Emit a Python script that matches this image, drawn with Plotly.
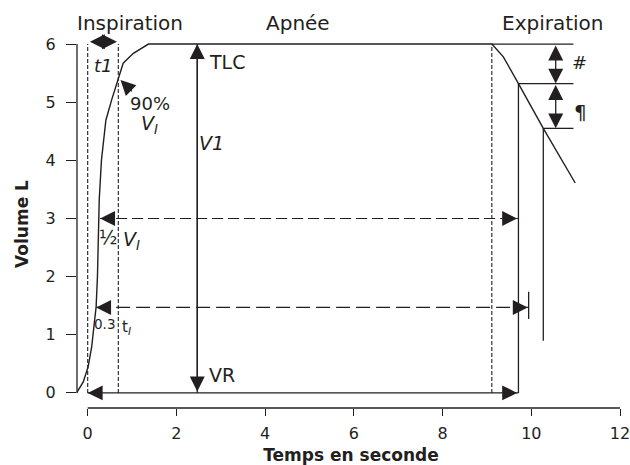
import plotly.graph_objects as go

# Inspiration curve (time in s, volume in L)
t_insp = [-0.25, -0.10, 0.01, 0.09, 0.14, 0.19, 0.22, 0.24, 0.26, 0.31, 0.41, 0.54, 0.69, 0.80, 1.03, 1.37]
v_insp = [0.0, 0.19, 0.45, 0.79, 1.14, 1.48, 2.00, 2.57, 3.32, 4.00, 4.69, 5.04, 5.41, 5.67, 5.84, 6.00]

# Expiration curve after the breath-hold
t_exp = [9.11, 9.37, 9.71, 10.27, 10.99]
v_exp = [6.00, 5.78, 5.32, 4.55, 3.61]

# Key volumes and times
TLC, VR = 6.0, 0.0
V_HALF, V_03 = 3.0, 1.47
T_I = 0.69            # end of inspiration (90 % V_I)
T_APNEE_END = 9.11
T_EXP1, V_EXP1 = 9.71, 5.32
T_EXP2, V_EXP2 = 10.27, 4.55
T_MARK = 9.94
T_HALF_START, T_03_START = 0.28, 0.19
T_VERT = 2.47
T_REF_END = 10.95
T_DOUBLE = 10.55

# Phase labels above the plot
phases = ["Inspiration", "Apnée", "Expiration"]
phase_x = [0.95, 4.74, 10.48]

x_ticks = [0, 2, 4, 6, 8, 10, 12]
y_ticks = [0, 1, 2, 3, 4, 5, 6]

INK = "#231f20"
FONT = "DejaVu Sans"

fig = go.Figure()


def seg(xs, ys, dash=None, width=1.3):
    fig.add_trace(go.Scatter(x=xs, y=ys, mode="lines", hoverinfo="skip",
                             line=dict(color=INK, width=width, dash=dash)))


# curve: inspiration, plateau at TLC, expiration
seg(t_insp + t_exp, v_insp + v_exp, width=1.4)

# reference lines on the right
seg([T_APNEE_END, T_REF_END], [TLC, TLC])
seg([T_EXP1, T_REF_END], [V_EXP1, V_EXP1])
seg([T_EXP2, T_REF_END], [V_EXP2, V_EXP2])
seg([T_EXP1, T_EXP1], [VR, V_EXP1])
seg([T_EXP2, T_EXP2], [0.895, V_EXP2])
seg([T_MARK, T_MARK], [1.27, 1.74])

# dashed verticals
for tx in (0.0, T_I, T_APNEE_END):
    seg([tx, tx], [VR, TLC], dash="4px,2px", width=1.1)

# dashed horizontals
seg([T_HALF_START, T_EXP1], [V_HALF, V_HALF], dash="11px,5px", width=1.2)
seg([T_03_START, T_MARK], [V_03, V_03], dash="14px,6px", width=1.2)

# solid baseline and TLC-VR vertical
seg([0.0, T_EXP1], [VR, VR])
seg([T_VERT, T_VERT], [VR, TLC])

annotations = []
HEAD = 2.3


def head(x, y, ax, ay):
    annotations.append(dict(x=x, y=y, ax=ax, ay=ay, xref="x", yref="y",
                            axref="x", ayref="y", text="", showarrow=True,
                            arrowhead=2, arrowsize=HEAD, arrowwidth=1.3,
                            arrowcolor=INK))


def both(x0, y0, x1, y1):
    annotations.append(dict(x=x1, y=y1, ax=x0, ay=y0, xref="x", yref="y",
                            axref="x", ayref="y", text="", showarrow=True,
                            arrowside="end+start", arrowhead=2, startarrowhead=2,
                            arrowsize=HEAD, startarrowsize=HEAD, arrowwidth=1.3,
                            arrowcolor=INK))


# t1 double arrow
head(0.05, 6.04, 0.35, 6.04)
head(0.66, 6.04, 0.35, 6.04)
# 90 % pointer
head(0.74, 5.38, 1.03, 5.16)
# TLC <-> VR
both(T_VERT, VR, T_VERT, TLC)
# heads on dashed / solid horizontals
head(T_HALF_START, V_HALF, T_HALF_START + 0.35, V_HALF)
head(T_EXP1 - 0.03, V_HALF, T_EXP1 - 0.38, V_HALF)
head(T_03_START, V_03, T_03_START + 0.35, V_03)
head(T_MARK - 0.02, V_03, T_MARK - 0.37, V_03)
head(0.0, VR, 0.35, VR)
head(T_EXP1 - 0.03, VR, T_EXP1 - 0.38, VR)
# # and ¶ double arrows
both(T_DOUBLE, TLC, T_DOUBLE, V_EXP1)
both(T_DOUBLE, V_EXP1, T_DOUBLE, V_EXP2)


def label(x, y, text, size=19, anchor="center"):
    annotations.append(dict(x=x, y=y, xref="x", yref="y", text=text,
                            showarrow=False, xanchor=anchor, yanchor="middle",
                            font=dict(family=FONT, size=size, color=INK)))


for name, px in zip(phases, phase_x):
    annotations.append(dict(x=px, y=1.046, xref="x", yref="paper", text=name,
                            showarrow=False, xanchor="center", yanchor="middle",
                            font=dict(family=FONT, size=20, color=INK)))

label(0.35, 5.63, "<i>t1</i>", 18)
label(1.40, 4.97, "90%", 18)
label(1.40, 4.62, "<i>V</i><sub><i>I</i></sub>", 19)
label(2.70, 5.69, "TLC", 19, "left")
label(2.80, 4.30, "<i>V1</i>", 19)
label(2.68, 0.30, "VR", 19, "left")
label(0.46, 2.68, "½", 19)
label(0.99, 2.62, "<i>V</i><sub><i>I</i></sub>", 19)
label(0.39, 1.18, "0.3", 13.5)
label(0.87, 1.13, "t<sub><i>I</i></sub>", 15)
label(11.08, 5.69, "#", 18)
label(11.10, 4.84, "¶", 20)

# detached axis spines
shapes = [
    dict(type="line", xref="paper", yref="y", x0=0, x1=0, y0=0, y1=6,
         line=dict(color=INK, width=1.3)),
    dict(type="line", xref="x", yref="paper", x0=0, x1=12, y0=0, y1=0,
         line=dict(color=INK, width=1.3)),
]

fig.update_layout(
    width=630, height=465,
    margin=dict(l=77, r=5, t=40, b=57),
    paper_bgcolor="white", plot_bgcolor="white",
    showlegend=False,
    annotations=annotations,
    shapes=shapes,
    font=dict(family=FONT, color=INK),
    xaxis=dict(range=[-0.241, 12.112], tickvals=x_ticks, ticks="outside",
               ticklen=7, tickwidth=1.3, tickcolor=INK, showline=False,
               showgrid=False, zeroline=False, ticklabelstandoff=4,
               ticklabeloverflow="allow",
               tickfont=dict(family=FONT, size=16, color=INK),
               automargin=False,
               title=dict(text="Temps en seconde", standoff=6,
                          font=dict(family=FONT, size=17, color=INK, weight="bold"))),
    yaxis=dict(range=[-0.26, 6.07], tickvals=y_ticks, ticks="outside",
               ticklen=10, tickwidth=1.3, tickcolor=INK, showline=False,
               showgrid=False, zeroline=False, ticklabelstandoff=7,
               tickfont=dict(family=FONT, size=16, color=INK),
               automargin=False,
               title=dict(text="Volume L", standoff=12,
                          font=dict(family=FONT, size=17, color=INK, weight="bold"))),
)

fig.write_html("out.html")
